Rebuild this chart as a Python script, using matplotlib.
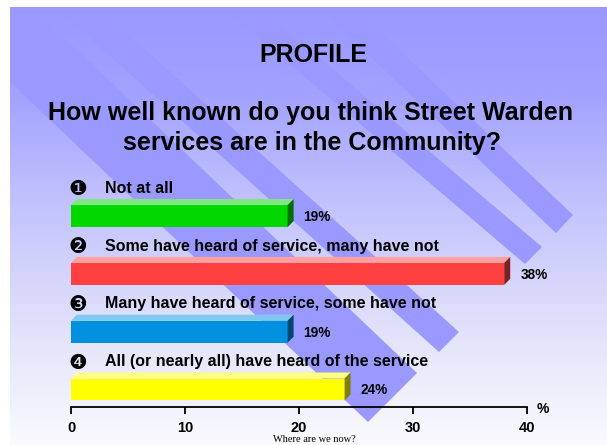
import numpy as np
import matplotlib
matplotlib.use("Agg")
import matplotlib.pyplot as plt
from matplotlib.patches import Polygon, Rectangle
from matplotlib.colors import LinearSegmentedColormap

# ---------------- data ----------------
categories = ["Not at all",
              "Some have heard of service, many have not",
              "Many have heard of service, some have not",
              "All (or nearly all) have heard of the service"]
markers = ["\u2776", "\u2777", "\u2778", "\u2779"]
values = [19, 38, 19, 24]
value_labels = ["19%", "38%", "19%", "24%"]
xticks = [0, 10, 20, 30, 40]
title = "PROFILE"
question = "How well known do you think Street Warden\nservices are in the Community?"
footer = "Where are we now?"

front_colors = ["#00D800", "#FF4040", "#0090E0", "#FFFF00"]
top_colors = ["#80E880", "#FFA0A0", "#80C8F0", "#FFFF80"]
side_colors = ["#006E00", "#802020", "#004870", "#808000"]

W, H = 607, 445
fig = plt.figure(figsize=(W / 100, H / 100), dpi=100)
fig.patch.set_facecolor("white")

# ---------------- background slide ----------------
bg = fig.add_axes([0, 0, 1, 1])
bg.set_xlim(0, W)
bg.set_ylim(H, 0)
bg.axis("off")
slide = Rectangle((10, 7), W - 10, H - 7, facecolor="none", edgecolor="none")
bg.add_patch(slide)
cmap = LinearSegmentedColormap.from_list(
    "g", [(0.0, "#9999FF"), (0.2, "#A2A2FF"), (0.42, "#BFBFFF"),
          (0.62, "#D5D5FC"), (0.8, "#E8E8FB"), (1.0, "#FAFAFF")])
grad = np.linspace(0, 1, 256).reshape(-1, 1)
im = bg.imshow(grad, cmap=cmap, extent=(10, W, H, 7), aspect="auto", zorder=0)
im.set_clip_path(slide)

band_color = "#9999FF"
# decorative diagonal bands: (upper tip, lower tip, slope)
bands = [((573, 215), (556, 233), 0.95),
         ((542, 247), (525, 264), 0.85),
         ((459, 332), (439, 352), 0.9),
         ((417, 373), (368, 422), 0.95)]
for up, lo, s in bands:
    d = np.array([1.0, s]) / np.hypot(1.0, s)
    up = np.array(up, float); lo = np.array(lo, float)
    poly = Polygon([up, lo, lo - 900 * d, up - 900 * d], closed=True,
                   facecolor=band_color, edgecolor="none", zorder=1)
    bg.add_patch(poly)
    poly.set_clip_path(slide)

# ---------------- titles ----------------
tfont = dict(fontsize=18.0, fontweight="bold", family="Liberation Sans")
fig.text(313 / W, 1 - 61.7 / H, title, ha="center", va="baseline", **tfont)
fig.text(310 / W, 1 - 120 / H, question.split("\n")[0], ha="center", va="baseline", **tfont)
fig.text(312 / W, 1 - 150 / H, question.split("\n")[1], ha="center", va="baseline", **tfont)

# ---------------- chart ----------------
x0px, x1px, ybot, ytop = 71, 527, 407, 170
ax = fig.add_axes([x0px / W, 1 - ybot / H, (x1px - x0px) / W, (ybot - ytop) / H])
ax.patch.set_visible(False)
pos = np.arange(len(values))[::-1]
ax.set_xlim(0, 40)
ax.set_ylim(-0.303, 3.797)
bh = 0.38
ax.barh(pos, values, height=bh, color=front_colors, zorder=3)

fig.canvas.draw()
inv = ax.transData.inverted()
p0 = ax.transData.transform((0, 0))
dxy = inv.transform(p0 + np.array([6.0, 6.0])) - inv.transform(p0)
dx, dy = dxy[0], dxy[1]
px_per_y = ax.transData.transform((0, 1))[1] - p0[1]

for i, (p, v) in enumerate(zip(pos, values)):
    yt, yb = p + bh / 2, p - bh / 2
    ax.add_patch(Polygon([(0, yt), (v, yt), (v + dx, yt + dy), (dx, yt + dy)],
                         facecolor=top_colors[i], edgecolor="none", zorder=3))
    ax.add_patch(Polygon([(v, yt), (v, yb), (v + dx, yb + dy), (v + dx, yt + dy)],
                         facecolor=side_colors[i], edgecolor="none", zorder=3))
    ax.text(v + 1.4, p - 1.0 / px_per_y, value_labels[i], ha="left", va="center",
            fontsize=9.8, fontweight="bold", family="Liberation Sans", zorder=4)
    lab_y = p + 23.3 / px_per_y
    ax.text(0.64, lab_y + 5.5 / px_per_y, markers[i], ha="center", va="center_baseline",
            fontsize=15, family="DejaVu Sans", clip_on=False, zorder=4)
    ax.text(2.96, lab_y, categories[i], ha="left", va="baseline",
            fontsize=11.5, fontweight="bold", family="Liberation Sans", clip_on=False, zorder=4)

for sp in ["top", "right", "left"]:
    ax.spines[sp].set_visible(False)
ax.spines["bottom"].set_linewidth(1.3)
ax.set_yticks([])
ax.set_xticks(xticks)
ax.set_xticklabels([str(t) for t in xticks], fontsize=10.5, fontweight="bold",
                   family="Liberation Sans")
ax.tick_params(axis="x", length=5.3, width=1.3, pad=5.0, direction="out")
ax.text((543 - x0px) / (x1px - x0px), -2.0 / (ybot - ytop), "%", transform=ax.transAxes,
        ha="center", va="center", fontsize=10, fontweight="bold",
        family="Liberation Sans", clip_on=False)

fig.text(314 / W, 1 - 439.3 / H, footer, ha="center", va="center",
         fontsize=7.5, family="Liberation Serif")

fig.savefig("out.png", dpi=100, facecolor="white")
